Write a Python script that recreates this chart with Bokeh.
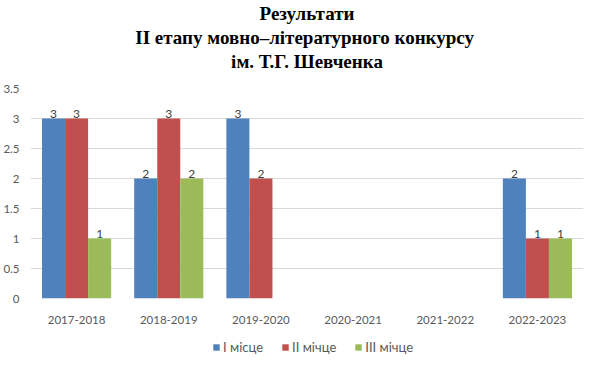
import math
from bokeh.plotting import figure
from bokeh.layouts import column
from bokeh.models import (ColumnDataSource, FactorRange, Title, Legend, LegendItem,
                          FixedTicker, Range1d, NumeralTickFormatter)
from bokeh.transform import dodge
from bokeh.embed import file_html
from bokeh.resources import INLINE
from bokeh.core.properties import value

# ---- data ----
years = ["2017-2018", "2018-2019", "2019-2020", "2020-2021", "2021-2022", "2022-2023"]
series_names = ["I місце", "II мічце", "III мічце"]
first_place = [3, 2, 3, None, None, 2]
second_place = [3, 3, 2, None, None, 1]
third_place = [1, 2, None, None, None, 1]
y_ticks = [0, 0.5, 1, 1.5, 2, 2.5, 3, 3.5]
title_lines = ["Результати", "II  етапу мовно–літературного конкурсу", "ім. Т.Г. Шевченка"]

colors = ["#4F81BD", "#C0504D", "#9BBB59"]
offsets = [-0.25, 0.0, 0.25]
series = [first_place, second_place, third_place]

FONT = "Lato"
GRAY = "#595959"

p = figure(width=584, height=326, x_range=FactorRange(*years), y_range=Range1d(0, 3.5),
           output_backend="svg", toolbar_location=None,
           min_border_left=29, min_border_right=1, min_border_top=87, min_border_bottom=25)
p.title.text = ""
p.outline_line_color = None
p.background_fill_color = "white"
p.border_fill_color = "white"

# spacer between plot and title
p.add_layout(Title(text=" ", text_font_size="12px", standoff=0), "above")
# titles (first added is closest to the plot)
for txt in reversed(title_lines):
    p.add_layout(Title(text=txt, align="center", text_font="Liberation Serif",
                       text_font_style="bold", text_font_size="19px",
                       text_color="black", standoff=1), "above")

for vals, off, col in zip(series, offsets, colors):
    tops = [float("nan") if v is None else v for v in vals]
    src = ColumnDataSource(dict(year=years, top=tops))
    p.vbar(x=dodge("year", off, range=p.x_range), top="top", width=0.25,
           source=src, fill_color=col, line_color=None)
    ly = [y for y, v in zip(years, vals) if v]
    lv = [v for v in vals if v]
    lsrc = ColumnDataSource(dict(year=ly, val=lv, lbl=[str(v) for v in lv]))
    p.text(x=dodge("year", off, range=p.x_range), y="val", text="lbl", source=lsrc,
           text_align="center", text_baseline="bottom", y_offset=-1,
           text_font=value(FONT), text_font_size="12px", text_color="#404040")

p.xgrid.grid_line_color = None
p.ygrid.grid_line_color = "#D9D9D9"
p.ygrid.ticker = FixedTicker(ticks=y_ticks)

p.yaxis.ticker = FixedTicker(ticks=y_ticks)
p.yaxis.formatter = NumeralTickFormatter(format="0.[0]")
for ax in (p.xaxis[0], p.yaxis[0]):
    ax.axis_line_color = None
    ax.major_tick_line_color = None
    ax.minor_tick_line_color = None
    ax.major_label_text_font = FONT
    ax.major_label_text_font_size = "11.5px"
    ax.major_label_text_color = GRAY
p.yaxis.major_label_standoff = 5
p.xaxis.major_label_standoff = 11

# ---- legend strip ----
p2 = figure(width=584, height=29, output_backend="svg", toolbar_location=None,
            x_range=Range1d(0, 1), y_range=Range1d(0, 1),
            x_axis_type=None, y_axis_type=None,
            min_border_left=0, min_border_right=0, min_border_top=0, min_border_bottom=0)
p2.grid.visible = False
p2.outline_line_color = None
p2.border_fill_color = "white"
p2.background_fill_color = "white"
items = []
for n, col in zip(series_names, colors):
    r = p2.vbar(x=[0.5], top=[0], width=0.1, fill_color=col, line_color=None)
    items.append(LegendItem(label=n, renderers=[r]))
legend = Legend(items=items, orientation="horizontal", location=(182, 0),
                padding=0, margin=0, border_line_color=None, background_fill_alpha=0,
                glyph_width=8, glyph_height=8, label_standoff=3, spacing=18,
                label_text_font=FONT, label_text_font_size="13px", label_text_color=GRAY,
                label_height=13)
p2.add_layout(legend, "center")

layout = column(p, p2, spacing=0)
open("out.html", "w").write(file_html(layout, INLINE))
